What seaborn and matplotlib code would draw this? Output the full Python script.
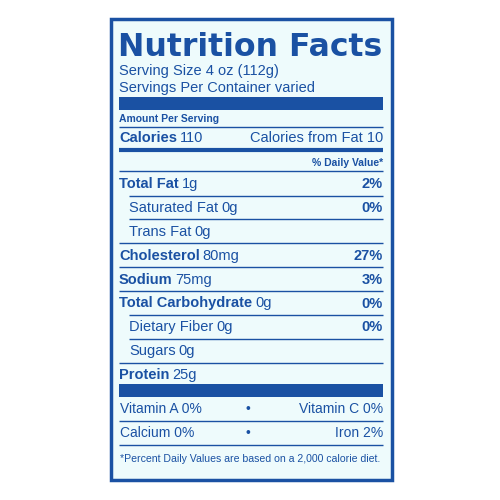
import matplotlib
matplotlib.use("Agg")
import matplotlib.pyplot as plt
import seaborn as sns

sns.set_theme(style="white")
plt.rcParams['font.family'] = ['Liberation Sans', 'DejaVu Sans']

BLUE = "#1a51a3"
BG = "#eefbfc"

title = "Nutrition Facts"
serving = ["Serving Size 4 oz (112g)", "Servings Per Container varied"]
calories = 110
cal_fat = 10
names = ["Total Fat", "Saturated Fat", "Trans Fat", "Cholesterol", "Sodium",
         "Total Carbohydrate", "Dietary Fiber", "Sugars", "Protein"]
amounts = ["1g", "0g", "0g", "80mg", "75mg", "0g", "0g", "0g", "25g"]
dvs = ["2%", "0%", "", "27%", "3%", "0%", "0%", "", ""]
sub = [False, True, True, False, False, False, True, True, False]
vit_left = ["Vitamin A 0%", "Calcium 0%"]
vit_right = ["Vitamin C 0%", "Iron 2%"]
footnote = "*Percent Daily Values are based on a 2,000 calorie diet."

fig = plt.figure(figsize=(5, 5), dpi=100)
ax = fig.add_axes([0, 0, 1, 1])
ax.set_xlim(0, 500); ax.set_ylim(500, 0); ax.axis("off")
fig.patch.set_facecolor("white")
ax.add_patch(plt.Rectangle((111, 19), 281, 461, facecolor=BG, edgecolor=BLUE, lw=2.5))
r = fig.canvas.get_renderer()
L, R = 119, 383

def txt(x, y, s, size=10, bold=False, ha="left", family=None):
    kw = {"family": family} if family else {}
    return ax.text(x, y, s, fontsize=size, fontweight="heavy" if bold == "heavy" else ("bold" if bold else "normal"),
                   color=BLUE, ha=ha, va="center", **kw)

def hline(y, x0=L, lw=1.0):
    ax.plot([x0, R], [y, y], color=BLUE, lw=lw, solid_capstyle="butt")

def width(t):
    return t.get_window_extent(r).width

t = txt(L - 1, 47, title, size=24, bold=True, family=["DejaVu Sans"])
w = width(t)
if w > 0:
    t.set_fontsize(24 * (R - L + 1) / w)
txt(L, 71, serving[0], 10.5)
txt(L, 88, serving[1], 10.5)
ax.add_patch(plt.Rectangle((L, 97), R - L, 13, color=BLUE, lw=0))
txt(L, 119, "Amount Per Serving", 7.5, True)
hline(127)
t = txt(L, 138, "Calories", 10.5, True)
txt(L + width(t) + 3, 138, str(calories), 10.5)
txt(R, 138, f"Calories from Fat {cal_fat}", 10.5, ha="right")
hline(150, lw=3)
txt(R, 163, "% Daily Value*", 7.5, True, ha="right")
hline(171)

y0, dy = 184, 23.9
for i, (n, a, d, s) in enumerate(zip(names, amounts, dvs, sub)):
    y = y0 + i * dy
    x = L + 10 if s else L
    t = txt(x, y, n, 10.5, not s)
    txt(x + width(t) + 3, y, a, 10.5)
    if d:
        txt(R, y, d, 10.5, True, ha="right")
    if i < len(names) - 1:
        hline(y + 11.5, x0=(L + 10 if sub[i + 1] else L))

ax.add_patch(plt.Rectangle((L, 384), R - L, 13, color=BLUE, lw=0))
for j, (a, b) in enumerate(zip(vit_left, vit_right)):
    y = 409 + j * 24
    txt(L + 1, y, a, 10)
    txt(248, y, "•", 10, ha="center")
    txt(R, y, b, 10, ha="right")
    hline(y + 12)
txt(L + 1, 459, footnote, 7.6)

fig.savefig("out.png", dpi=100, facecolor="white")
